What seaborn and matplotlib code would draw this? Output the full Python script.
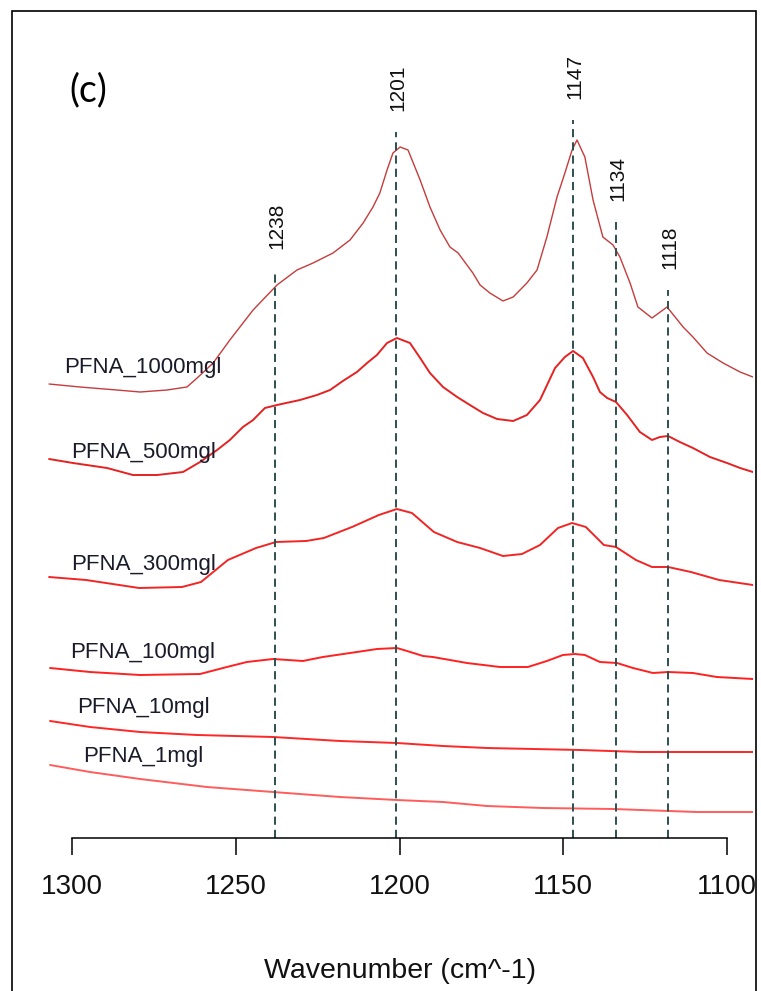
import matplotlib
matplotlib.use("Agg")
import matplotlib.pyplot as plt
import seaborn as sns
import pandas as pd
from matplotlib.patches import Rectangle

# ---------------- data ----------------
series_names = ["PFNA_1000mgl", "PFNA_500mgl", "PFNA_300mgl",
                "PFNA_100mgl", "PFNA_10mgl", "PFNA_1mgl"]

wn_1000 = [1307.0, 1297.6, 1286.3, 1279.2, 1271.0, 1264.9, 1261.8, 1256.9, 1251.8, 1244.7,
           1237.4, 1231.3, 1226.4, 1220.3, 1215.1, 1211.1, 1208.1, 1206.0, 1203.8, 1202.0,
           1199.8, 1197.4, 1193.7, 1190.7, 1187.6, 1184.6, 1182.1, 1177.6, 1175.4, 1172.4,
           1168.4, 1165.3, 1161.1, 1158.0, 1155.0, 1151.9, 1149.5, 1147.3, 1145.8, 1143.4,
           1140.9, 1137.9, 1134.8, 1132.7, 1129.6, 1127.2, 1122.9, 1118.3, 1113.4, 1110.4,
           1106.1, 1101.2, 1096.0, 1092.1]
abs_1000 = [0.908, 0.902, 0.896, 0.892, 0.896, 0.902, 0.920, 0.950, 0.996, 1.056,
            1.106, 1.136, 1.150, 1.170, 1.196, 1.230, 1.262, 1.290, 1.336, 1.370,
            1.382, 1.376, 1.316, 1.262, 1.216, 1.182, 1.170, 1.130, 1.106, 1.090,
            1.074, 1.082, 1.110, 1.136, 1.202, 1.282, 1.330, 1.376, 1.396, 1.362,
            1.276, 1.202, 1.186, 1.162, 1.110, 1.062, 1.040, 1.062, 1.022, 1.002,
            0.970, 0.950, 0.932, 0.922]

wn_500 = [1307.0, 1299.7, 1289.3, 1281.4, 1274.0, 1266.1, 1260.9, 1255.7, 1251.8, 1247.8,
          1244.7, 1241.1, 1237.4, 1230.4, 1225.2, 1221.2, 1217.3, 1213.0, 1209.9, 1206.9,
          1203.8, 1200.8, 1196.8, 1193.7, 1190.7, 1186.7, 1182.4, 1178.5, 1174.5, 1170.2,
          1165.3, 1161.1, 1157.1, 1152.5, 1149.5, 1147.0, 1144.0, 1140.9, 1138.8, 1136.6,
          1133.9, 1130.5, 1126.6, 1122.9, 1120.5, 1118.0, 1114.4, 1110.4, 1105.2, 1100.0,
          1096.0, 1092.1]
abs_500 = [0.758, 0.750, 0.740, 0.726, 0.726, 0.732, 0.752, 0.776, 0.796, 0.822,
           0.836, 0.860, 0.866, 0.876, 0.886, 0.896, 0.914, 0.932, 0.950, 0.966,
           0.990, 1.000, 0.990, 0.960, 0.930, 0.902, 0.882, 0.866, 0.850, 0.838,
           0.834, 0.846, 0.876, 0.940, 0.962, 0.974, 0.960, 0.922, 0.892, 0.880,
           0.872, 0.846, 0.812, 0.796, 0.802, 0.804, 0.792, 0.780, 0.762, 0.750,
           0.740, 0.732]

wn_300 = [1307.0, 1295.7, 1279.5, 1266.4, 1260.6, 1252.4, 1243.8, 1237.7, 1228.5, 1223.1,
          1214.5, 1206.3, 1200.8, 1196.2, 1189.5, 1182.4, 1175.4, 1168.4, 1162.6, 1157.1,
          1151.6, 1147.3, 1143.1, 1137.6, 1133.9, 1127.8, 1122.9, 1118.0, 1111.0, 1102.4,
          1092.1]
abs_300 = [0.522, 0.516, 0.500, 0.502, 0.512, 0.556, 0.580, 0.592, 0.594, 0.600,
           0.622, 0.646, 0.658, 0.650, 0.612, 0.592, 0.580, 0.564, 0.568, 0.586,
           0.620, 0.630, 0.622, 0.586, 0.582, 0.556, 0.542, 0.542, 0.532, 0.516,
           0.506]

wn_100 = [1306.7, 1294.5, 1279.2, 1260.9, 1252.7, 1246.6, 1238.6, 1229.5, 1223.4, 1213.0,
          1206.9, 1200.8, 1197.7, 1192.8, 1189.8, 1179.4, 1169.3, 1160.8, 1155.0, 1150.1,
          1146.4, 1143.4, 1138.8, 1133.6, 1128.7, 1122.6, 1118.0, 1110.4, 1103.1, 1092.1]
abs_100 = [0.340, 0.332, 0.326, 0.328, 0.342, 0.352, 0.358, 0.354, 0.362, 0.372,
           0.378, 0.380, 0.374, 0.364, 0.362, 0.350, 0.342, 0.342, 0.354, 0.366,
           0.368, 0.366, 0.352, 0.350, 0.340, 0.330, 0.332, 0.330, 0.322, 0.318]

wn_10 = [1306.7, 1294.5, 1279.2, 1261.8, 1238.6, 1218.2, 1200.8, 1186.7, 1173.3, 1144.9,
         1126.6, 1098.2, 1092.1]
abs_10 = [0.234, 0.222, 0.212, 0.206, 0.202, 0.194, 0.190, 0.184, 0.180, 0.176,
          0.172, 0.172, 0.172]

wn_1 = [1306.7, 1294.5, 1279.2, 1258.8, 1238.6, 1218.2, 1200.8, 1186.7, 1173.3, 1156.2,
        1134.8, 1109.2, 1092.1]
abs_1 = [0.146, 0.132, 0.118, 0.102, 0.092, 0.082, 0.076, 0.072, 0.064, 0.060,
         0.058, 0.052, 0.052]

peak_positions = [1238, 1201, 1147, 1134, 1118]
peak_line_tops = [1.136, 1.412, 1.436, 1.232, 1.096]

x_ticks = [1300, 1250, 1200, 1150, 1100]
x_label = "Wavenumber (cm^-1)"
panel_label = "(c)"

# ---------------- styling ----------------
sns.set_theme(style="white")
plt.rcParams["font.family"] = ["Liberation Sans", "DejaVu Sans"]

colors = ["#C43C3C", "#E42222", "#F22525", "#FF2020", "#FF2626", "#FF5C5C"]
widths = [1.0, 1.4, 1.4, 1.4, 1.4, 1.4]
label_baselines = [0.930, 0.760, 0.536, 0.360, 0.250, 0.152]
label_x = 1278.3

W, H = 761, 991
fig = plt.figure(figsize=(W / 100, H / 100), dpi=100)
fig.patch.set_facecolor("white")

XL, XR = 1307.6, 1092.1
ppu = 655 / 200.0
left_px = 72 - (XL - 1300) * ppu
right_px = 727 + (1100 - XR) * ppu
y0_px, ytop_px = 838, 40
ax = fig.add_axes([left_px / W, (H - y0_px) / H, (right_px - left_px) / W, (y0_px - ytop_px) / H])
ax.set_facecolor("none")

frames = []
for name, wn, ab in [(series_names[0], wn_1000, abs_1000), (series_names[1], wn_500, abs_500),
                     (series_names[2], wn_300, abs_300), (series_names[3], wn_100, abs_100),
                     (series_names[4], wn_10, abs_10), (series_names[5], wn_1, abs_1)]:
    frames.append(pd.DataFrame({"wavenumber": wn, "absorbance": ab, "sample": name}))
df = pd.concat(frames, ignore_index=True)

for name, col, lw in zip(series_names, colors, widths):
    sub = df[df["sample"] == name]
    sns.lineplot(data=sub, x="wavenumber", y="absorbance", ax=ax, color=col,
                 linewidth=lw, estimator=None, sort=True, legend=False)

ax.set_xlim(XL, XR)
ax.set_ylim(0, (y0_px - ytop_px) / 500)

# dashed reference lines + labels
ax.vlines(peak_positions, 0, peak_line_tops, colors="#2F4F4F", linewidth=1.4,
          linestyles=[(0, (4.2, 2.6))])
for p, t in zip(peak_positions, peak_line_tops):
    ax.annotate(str(p), xy=(p, t), xytext=(1.5, 15), textcoords="offset points",
                rotation=90, ha="center", va="bottom", fontsize=15, color="#111111",
                annotation_clip=False)

for name, yb in zip(series_names, label_baselines):
    ax.text(label_x, yb, name, ha="center", va="baseline", fontsize=16, color="#1a1a2a")

# axes
for s in ["left", "top", "right"]:
    ax.spines[s].set_visible(False)
ax.spines["bottom"].set_bounds(1100, 1300)
ax.spines["bottom"].set_linewidth(1.1)
ax.spines["bottom"].set_color("black")
ax.set_xticks(x_ticks)
ax.set_xticklabels([str(t) for t in x_ticks], fontsize=20)
ax.set_yticks([])
ax.tick_params(axis="x", direction="out", length=12, width=1.1, color="black",
               pad=14, bottom=True, labelcolor="#111111")
ax.set_xlabel(x_label, fontsize=20.5, labelpad=42, color="#111111")
ax.set_ylabel("")

fig.text(88 / W, 1 - 90 / H, panel_label, ha="center", va="center", fontsize=27,
         fontfamily=["Lato", "DejaVu Sans"], color="black")

# outer frame
fig.add_artist(Rectangle((12 / W, -0.05), (756 - 12) / W, 1.05 - 11 / H,
                         transform=fig.transFigure, fill=False, edgecolor="black",
                         linewidth=1.2))

fig.savefig("out.png", dpi=100, facecolor="white")
